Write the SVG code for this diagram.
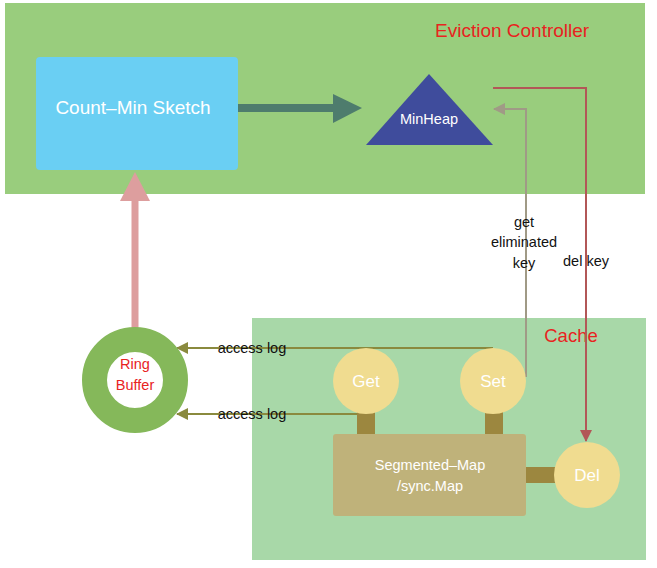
<svg xmlns="http://www.w3.org/2000/svg" width="657" height="568" viewBox="0 0 657 568">
<style>
text{font-family:"Liberation Sans","Noto Sans",Arial,sans-serif;}
.w{fill:#ffffff;text-anchor:middle;}
.r{fill:#e8231f;}
.k{fill:#111111;font-size:14.5px;}
.c{text-anchor:middle;}
.yc{fill:#f0dc90;}
.stem{fill:#9c873f;}
.log{stroke:#8a8a3e;stroke-width:2;fill:none;}
</style>
<defs>
<marker id="ol" markerWidth="12" markerHeight="12" refX="11" refY="6" orient="auto" markerUnits="userSpaceOnUse">
<path d="M0,0 L12,6 L0,12 z" fill="#8a8a3e"/>
</marker>
<marker id="gr" markerWidth="12" markerHeight="12" refX="11" refY="6" orient="auto" markerUnits="userSpaceOnUse">
<path d="M0,0 L12,6 L0,12 z" fill="#a09a86"/>
</marker>
<marker id="rd" markerWidth="12" markerHeight="12" refX="11" refY="6" orient="auto" markerUnits="userSpaceOnUse">
<path d="M0,0 L12,6 L0,12 z" fill="#b25757"/>
</marker>
</defs>
<rect width="657" height="568" fill="#ffffff"/>
<g id="eviction-controller">
<rect x="5" y="3" width="640" height="191" fill="#99cd7d"/>
<text x="435" y="37" class="r" font-size="19">Eviction Controller</text>
</g>
<g id="cache">
<rect x="252" y="318" width="394" height="242" fill="#a8d8a8"/>
<text x="571" y="342" class="r c" font-size="18.5">Cache</text>
</g>
<g id="connectors">
<line x1="238" y1="108" x2="336" y2="108" stroke="#4e7c6d" stroke-width="8"/>
<polygon points="333,94 362,108 333,123" fill="#4e7c6d"/>
<line x1="135" y1="328" x2="135" y2="198" stroke="#dd9e9e" stroke-width="7"/>
<polygon points="120,201 135,172 150,201" fill="#dd9e9e"/>
<polyline points="526,377 526,109 494,109" fill="none" stroke="#a09a86" stroke-width="2" marker-end="url(#gr)"/>
<polyline points="493,88 586,88 586,441" fill="none" stroke="#b25757" stroke-width="2" marker-end="url(#rd)"/>
<line x1="493" y1="348" x2="177" y2="348" class="log" marker-end="url(#ol)"/>
<line x1="366" y1="414" x2="177" y2="414" class="log" marker-end="url(#ol)"/>
<rect x="357" y="410" width="18" height="26" class="stem"/>
<rect x="485" y="410" width="18" height="26" class="stem"/>
<rect x="524" y="467" width="32" height="16" class="stem"/>
<text x="252" y="353" class="k c">access log</text>
<text x="252" y="419" class="k c">access log</text>
<text x="524" y="227" class="k c">get</text>
<text x="524" y="247" class="k c">eliminated</text>
<text x="524" y="268" class="k c">key</text>
<text x="586" y="266" class="k c">del key</text>
</g>
<g id="count-min-sketch">
<rect x="36" y="57" width="202" height="113" rx="4" fill="#6acff3"/>
<text x="133" y="114" class="w" font-size="19">Count–Min Sketch</text>
</g>
<g id="minheap">
<polygon points="429,74 493,145 366,145" fill="#3f4c9c"/>
<text x="429" y="124" class="w" font-size="14.5">MinHeap</text>
</g>
<g id="ring-buffer">
<circle cx="135" cy="380" r="40.5" fill="#ffffff" stroke="#85b85a" stroke-width="25"/>
<text x="135" y="369" class="r c" font-size="14.5">Ring</text>
<text x="135" y="390" class="r c" font-size="14.5">Buffer</text>
</g>
<g id="get">
<circle cx="366" cy="381" r="33" class="yc"/>
<text x="366" y="387" class="w" font-size="17">Get</text>
</g>
<g id="set">
<circle cx="493" cy="381" r="33" class="yc"/>
<text x="493" y="387" class="w" font-size="17">Set</text>
</g>
<g id="segmented-map">
<rect x="333" y="434" width="193" height="82" rx="3" fill="#bfb27a"/>
<text x="430" y="470" class="w" font-size="14.5">Segmented–Map</text>
<text x="430" y="491" class="w" font-size="14.5">/sync.Map</text>
</g>
<g id="del">
<circle cx="587" cy="475" r="33" class="yc"/>
<text x="587" y="481" class="w" font-size="17">Del</text>
</g>
</svg>
